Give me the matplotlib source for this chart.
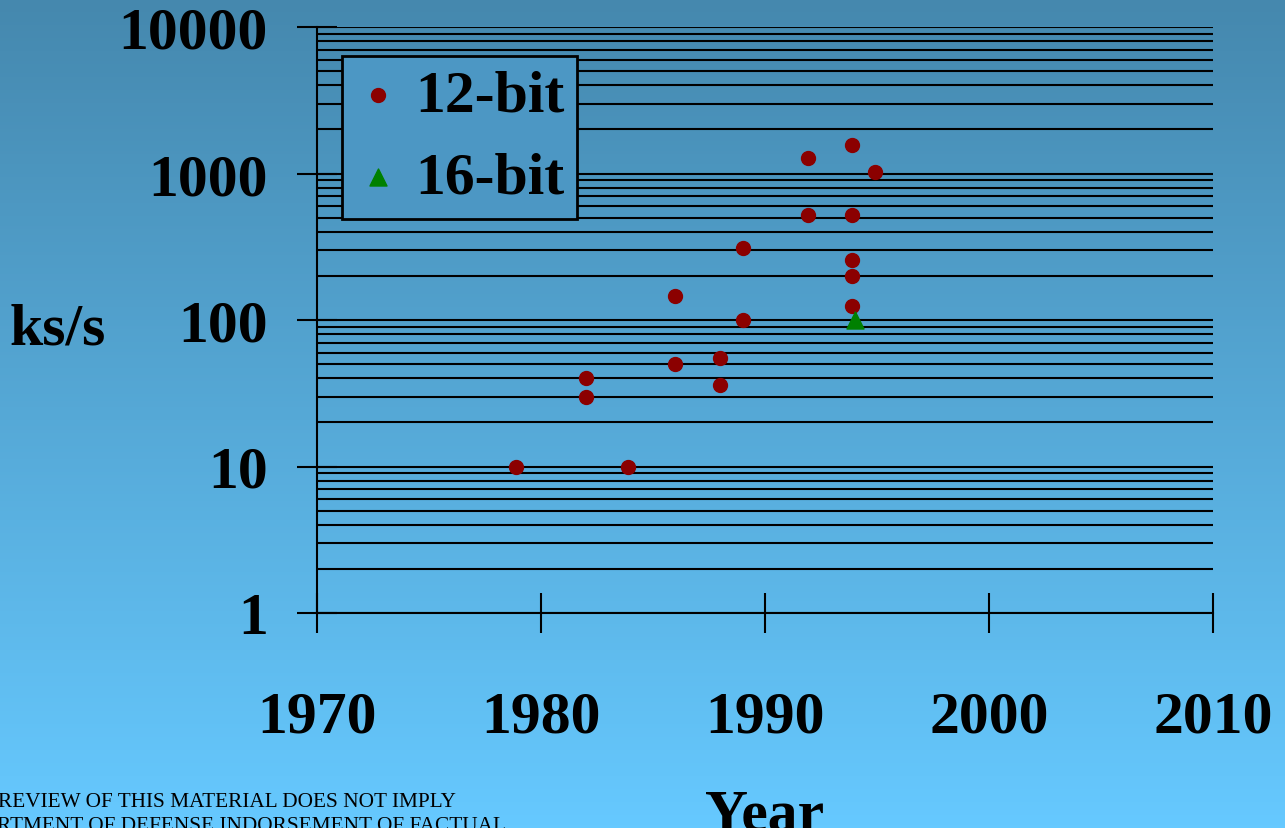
import numpy as np
import matplotlib
matplotlib.use("Agg")
import matplotlib.pyplot as plt
from matplotlib.colors import LinearSegmentedColormap
from matplotlib.ticker import LogLocator, FixedLocator, NullFormatter

# data
years_12 = [1978.9, 1982, 1982, 1983.9, 1986, 1986, 1988, 1988, 1989, 1989,
            1991.9, 1991.9, 1993.9, 1994.9, 1993.9, 1993.9, 1993.9, 1993.9]
rates_12 = [10, 40, 30, 10, 145, 50, 55, 36, 310, 100,
            1280, 520, 1560, 1020, 520, 256, 200, 125]
years_16 = [1994]
rates_16 = [100]

y_ticks = [1, 10, 100, 1000, 10000]
y_tick_labels = ["1", "10", "100", "1000", "10000"]
x_ticks = [1970, 1980, 1990, 2000, 2010]

BG_TOP = "#4588ae"
BG_BOTTOM = "#66c9ff"
LEGEND_BG = "#4c97c4"
FONT = "Liberation Serif"
W, H = 1285, 829

fig = plt.figure(figsize=(W / 100, H / 100), dpi=100)

# vertical gradient background
bg = fig.add_axes([0, 0, 1, 1], zorder=0)
grad = np.linspace(0, 1, 256).reshape(-1, 1)
cmap = LinearSegmentedColormap.from_list("bg", [BG_TOP, BG_BOTTOM])
bg.imshow(grad, aspect="auto", cmap=cmap, extent=[0, 1, 0, 1], origin="upper")
bg.axis("off")

ax = fig.add_axes([317 / W, (H - 614) / H, 896 / W, 586 / H], zorder=1)
ax.patch.set_alpha(0)
ax.set_yscale("log")
ax.set_xlim(1970, 2010)
ax.set_ylim(1, 10000)

ax.yaxis.set_major_locator(FixedLocator(y_ticks))
ax.set_yticklabels(y_tick_labels)
ax.yaxis.set_minor_locator(LogLocator(base=10, subs=np.arange(2, 10)))
ax.yaxis.set_minor_formatter(NullFormatter())
ax.set_xticks(x_ticks)
ax.set_xticklabels([str(x) for x in x_ticks])

ax.yaxis.grid(True, which="both", color="black", linewidth=1.5)
ax.set_axisbelow(True)

for side in ["top", "right"]:
    ax.spines[side].set_visible(False)
for side in ["left", "bottom"]:
    ax.spines[side].set_linewidth(1.5)

ax.tick_params(axis="both", which="major", direction="inout", length=29,
               width=1.5, colors="black")
ax.tick_params(axis="y", which="minor", length=0)
ax.tick_params(axis="y", which="major", pad=21)
ax.tick_params(axis="x", which="major", pad=41)
for lab in ax.get_xticklabels() + ax.get_yticklabels():
    lab.set_fontfamily(FONT)
    lab.set_fontweight("bold")
    lab.set_fontsize(43)

ax.scatter(years_12, rates_12, s=100, color="#8b0000", zorder=3,
           label="12-bit", clip_on=False)
ax.scatter(years_16, rates_16, s=150, marker="^", color="#008000", zorder=3,
           label="16-bit", clip_on=False)

leg = ax.legend(loc="upper left", bbox_to_anchor=((342 - 317) / 896, (614 - 57) / 586),
                borderaxespad=0, fancybox=False, framealpha=1,
                facecolor=LEGEND_BG, edgecolor="black",
                prop=dict(family=FONT, weight="bold", size=43),
                handletextpad=0.25, labelspacing=0.45, borderpad=0.22,
                handlelength=0.75)
leg.get_frame().set_linewidth(2)

fig.text(10 / W, (H - 345) / H, "ks/s", fontsize=43, fontweight="bold",
         family=FONT, ha="left", va="baseline")
fig.text(765 / W, -2 / H, "Year", fontsize=43, fontweight="bold",
         family=FONT, ha="center", va="baseline")

fig.text(-2 / W, (H - 807) / H, "REVIEW OF THIS MATERIAL DOES NOT IMPLY",
         fontsize=15.3, family=FONT, ha="left", va="baseline")
fig.text(-3 / W, (H - 831) / H, "RTMENT OF DEFENSE INDORSEMENT OF FACTUAL",
         fontsize=15.3, family=FONT, ha="left", va="baseline")

fig.savefig("out.png", dpi=100)
